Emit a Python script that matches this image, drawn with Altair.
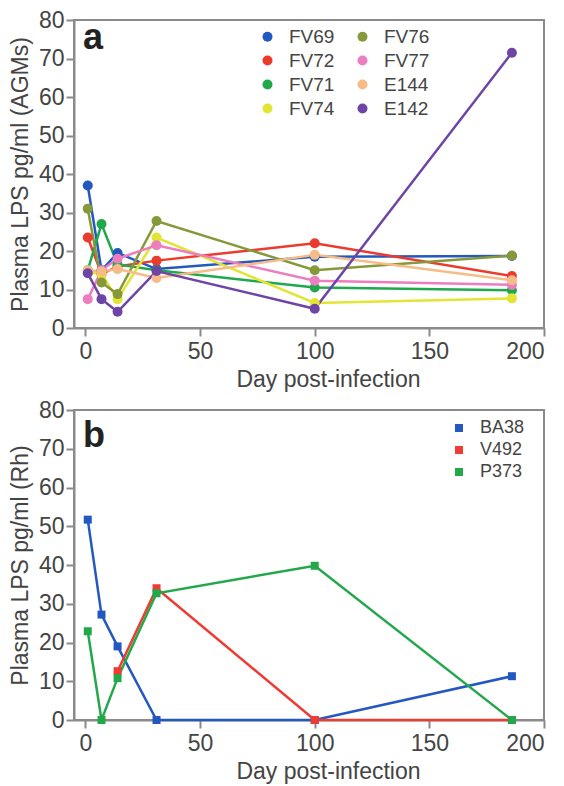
import altair as alt
import pandas as pd

# ---------------- data ----------------
days = [1, 7, 14, 31, 100, 186]

# panel a (AGMs)
agm_names = ["FV69", "FV72", "FV71", "FV74", "FV76", "FV77", "E144", "E142"]
fv69 = [37.0, 15.0, 19.5, 15.3, 18.5, 18.7]
fv72 = [23.5, 14.0, 16.0, 17.5, 22.0, 13.5]
fv71 = [15.0, 27.0, 16.5, 15.0, 10.5, 9.8]
fv74 = [14.5, 14.0, 7.5, 23.5, 6.5, 7.7]
fv76 = [31.0, 11.8, 8.8, 27.8, 15.0, 18.8]
fv77 = [7.5, 15.0, 18.0, 21.5, 12.3, 11.2]
e144 = [15.0, 14.7, 15.3, 13.0, 19.0, 12.4]
e142 = [14.2, 7.5, 4.2, 14.8, 5.0, 71.5]
agm_values = [fv69, fv72, fv71, fv74, fv76, fv77, e144, e142]

colors_a = {
    "FV69": "#2358c0", "FV72": "#ec3a2e", "FV71": "#1fa84c", "FV74": "#e2e533",
    "FV76": "#86993a", "FV77": "#ec7ec0", "E144": "#f6bb86", "E142": "#6e45a6",
}

# panel b (Rh)
rh_names = ["BA38", "V492", "P373"]
ba38_days = [1, 7, 14, 31, 100, 186]
ba38 = [51.7, 27.2, 19.0, 0.0, 0.0, 11.3]
v492_days = [14, 31, 100, 186]
v492 = [12.6, 34.0, 0.0, 0.0]
p373_days = [1, 7, 14, 31, 100, 186]
p373 = [22.9, 0.0, 10.8, 32.7, 39.8, 0.0]
colors_b = {"BA38": "#2358c0", "V492": "#ee3b33", "P373": "#22a84a"}

x_ticks = [0, 50, 100, 150, 200]
y_ticks = [0, 10, 20, 30, 40, 50, 60, 70, 80]

# ---------------- tables ----------------
rows_a = []
for name, vals in zip(agm_names, agm_values):
    for d, v in zip(days, vals):
        rows_a.append({"animal": name, "day": d, "lps": v})
df_a = pd.DataFrame(rows_a)

rows_b = []
for name, ds, vals in [("BA38", ba38_days, ba38), ("V492", v492_days, v492), ("P373", p373_days, p373)]:
    for d, v in zip(ds, vals):
        rows_b.append({"animal": name, "day": d, "lps": v})
df_b = pd.DataFrame(rows_b)

FONT = "Liberation Sans"
TXT = "#444444"


def x_enc():
    return alt.X("day:Q", scale=alt.Scale(domain=[-5, 200], nice=False, zero=False),
                 axis=alt.Axis(values=x_ticks, title="Day post-infection", titleX=254))


def y_enc(title):
    return alt.Y("lps:Q", scale=alt.Scale(domain=[0, 80], nice=False),
                 axis=alt.Axis(values=y_ticks, title=title))


# ---------------- panel a ----------------
scale_a = alt.Scale(domain=agm_names, range=[colors_a[n] for n in agm_names])
legend_a = alt.Legend(
    title=None, orient="none", legendX=184, legendY=7, columns=2,
    symbolType="circle", symbolSize=100, labelFontSize=19, labelFont=FONT,
    labelColor=TXT, labelOffset=12, columnPadding=18, rowPadding=4, padding=0,
    symbolOpacity=1, symbolStrokeWidth=0,
)
lines_a = alt.Chart(df_a).mark_line(strokeWidth=2.5).encode(
    x=x_enc(), y=y_enc("Plasma LPS pg/ml  (AGMs)"),
    color=alt.Color("animal:N", scale=scale_a, legend=legend_a),
)
points_a = alt.Chart(df_a).mark_point(filled=True, size=100, opacity=1).encode(
    x=x_enc(), y=y_enc("Plasma LPS pg/ml  (AGMs)"),
    color=alt.Color("animal:N", scale=scale_a, legend=legend_a),
)
letter_a = alt.Chart(pd.DataFrame({"t": ["a"]})).mark_text(
    align="left", baseline="alphabetic", fontSize=36, fontWeight="bold", font=FONT, color="#222222"
).encode(x=alt.value(9), y=alt.value(29), text="t:N")

chart_a = alt.layer(lines_a, points_a, letter_a).properties(width=470, height=308)

# ---------------- panel b ----------------
scale_b = alt.Scale(domain=rh_names, range=[colors_b[n] for n in rh_names])
legend_b = alt.Legend(
    title=None, orient="none", legendX=376, legendY=9,
    symbolType="square", symbolSize=64, labelFontSize=18, labelFont=FONT,
    labelColor=TXT, labelOffset=12, rowPadding=4, padding=0, symbolOpacity=1,
    symbolStrokeWidth=0,
)
lines_b = alt.Chart(df_b).mark_line(strokeWidth=2.5).encode(
    x=x_enc(), y=y_enc("Plasma LPS pg/ml  (Rh)"),
    color=alt.Color("animal:N", scale=scale_b, legend=legend_b),
)
points_b = alt.Chart(df_b).mark_point(filled=True, size=64, opacity=1, shape="square").encode(
    x=x_enc(), y=y_enc("Plasma LPS pg/ml  (Rh)"),
    color=alt.Color("animal:N", scale=scale_b, legend=legend_b),
)
letter_b = alt.Chart(pd.DataFrame({"t": ["b"]})).mark_text(
    align="left", baseline="alphabetic", fontSize=36, fontWeight="bold", font=FONT, color="#222222"
).encode(x=alt.value(9), y=alt.value(37), text="t:N")

chart_b = alt.layer(lines_b, points_b, letter_b).properties(width=470, height=310)

chart = alt.vconcat(chart_a, chart_b, spacing=6).resolve_scale(color="independent").configure(
    padding={"left": 0, "top": 0, "right": 2, "bottom": 0}
).configure_view(
    stroke="#8a8a8a", strokeWidth=2
).configure_axis(
    labelFont=FONT, titleFont=FONT, labelFontSize=23, titleFontSize=23,
    labelColor=TXT, titleColor=TXT, titleFontWeight="normal",
    tickColor="#8a8a8a", tickWidth=2, tickSize=8, domainColor="#8a8a8a", domainWidth=2,
    grid=False, labelPadding=4,
).configure_axisY(
    titlePadding=6, labelPadding=2
).configure_axisX(
    titlePadding=5
)

chart.save("out.html", embed_options={"renderer": "svg", "actions": False})
